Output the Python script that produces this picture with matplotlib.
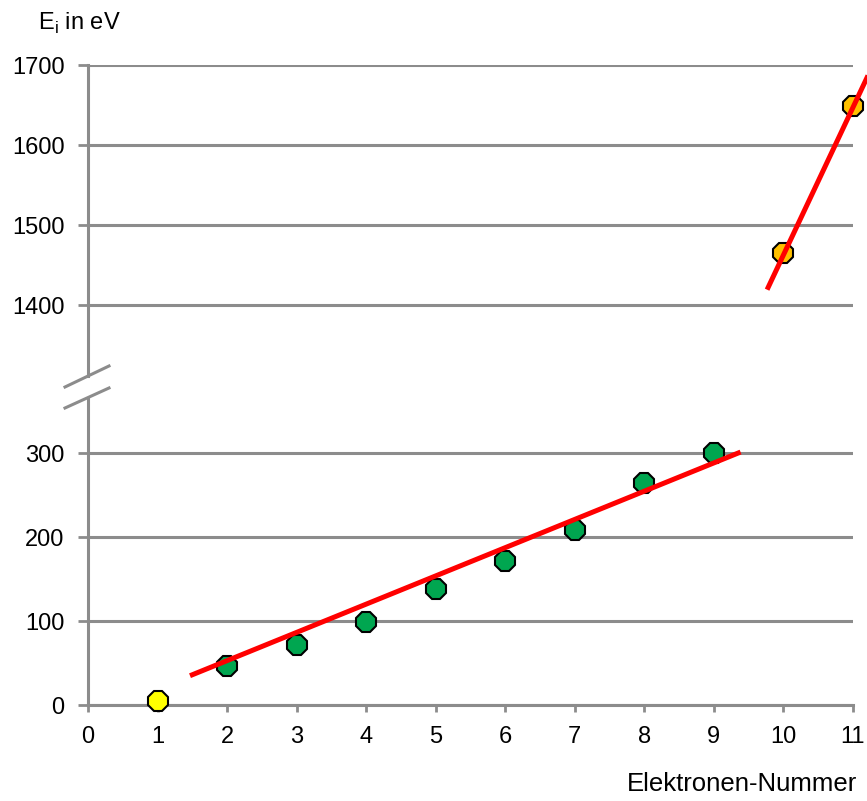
import matplotlib
matplotlib.use("Agg")
import matplotlib.pyplot as plt
from matplotlib.lines import Line2D

plt.rcParams['font.family'] = ['Liberation Sans', 'DejaVu Sans']

# Ionisierungsenergien (Natrium)
x_first = [1]
y_first = [5]
x_mid = [2, 3, 4, 5, 6, 7, 8, 9]
y_mid = [47, 72, 99, 138, 172, 208, 264, 300]
x_inner = [10, 11]
y_inner = [1465, 1649]

# rote Ausgleichsgeraden (Endpunkte)
fit_low_x = [1.5, 9.35]
fit_low_y = [36, 300]
fit_high_x = [9.78, 11.2]
fit_high_y = [1422, 1684]

x_ticks = list(range(0, 12))
low_ticks = [0, 100, 200, 300]
high_ticks = [1400, 1500, 1600, 1700]

grey = "#8c8c8c"
W, H = 867, 801

fig = plt.figure(figsize=(W / 100, H / 100), dpi=100)

def px_box(left, top, right, bottom):
    return [left / W, (H - bottom) / H, (right - left) / W, (bottom - top) / H]

ax_lo = fig.add_axes(px_box(88, 398, 853, 705))
ax_hi = fig.add_axes(px_box(88, 65, 853, 376))

ax_lo.set_ylim(0, 307 / 0.84)
ax_hi.set_ylim(1700 - 311 / 0.8, 1700)

for ax in (ax_lo, ax_hi):
    ax.set_xlim(0, 11)
    ax.spines['top'].set_visible(False)
    ax.spines['right'].set_visible(False)
    ax.spines['left'].set_color(grey)
    ax.spines['left'].set_linewidth(2.2)
    ax.spines['bottom'].set_color(grey)
    ax.spines['bottom'].set_linewidth(2.2)
    ax.yaxis.grid(True, color=grey, linewidth=2.2)
    ax.set_axisbelow(True)
    ax.tick_params(axis='y', length=7, width=2, color=grey, pad=10, labelsize=17)
    ax.tick_params(axis='x', length=5, width=2, color=grey, pad=10, labelsize=17)

ax_lo.set_yticks(low_ticks)
ax_lo.set_xticks(x_ticks)
ax_hi.set_yticks(high_ticks)
ax_hi.set_xticks([])
ax_hi.spines['bottom'].set_visible(False)

mk = dict(marker='8', markersize=15, markeredgecolor='black', markeredgewidth=1.5,
          linestyle='none', zorder=3, clip_on=False)

ax_lo.plot(fit_low_x, fit_low_y, color='red', linewidth=3.6, zorder=4, clip_on=False)
ax_lo.plot(x_first, y_first, markerfacecolor='#ffff00', **mk)
ax_lo.plot(x_mid, y_mid, markerfacecolor='#00a650', **mk)

ax_hi.plot(fit_high_x, fit_high_y, color='red', linewidth=3.6, zorder=4, clip_on=False)
ax_hi.plot(x_inner, y_inner, markerfacecolor='#ffc000', **mk)

# Achsenbruch
for y0, y1 in [(387, 366), (408, 388)]:
    fig.add_artist(Line2D([65 / W, 109 / W], [(H - y0) / H, (H - y1) / H],
                          color=grey, linewidth=2.2))

fig.text(38 / W, (H - 30) / H, r"E$_\mathregular{i}$ in eV", fontsize=17, va='baseline')
fig.text(857 / W, (H - 791) / H, "Elektronen-Nummer", fontsize=18.5, va='baseline', ha='right')

fig.savefig("out.png", dpi=100)
